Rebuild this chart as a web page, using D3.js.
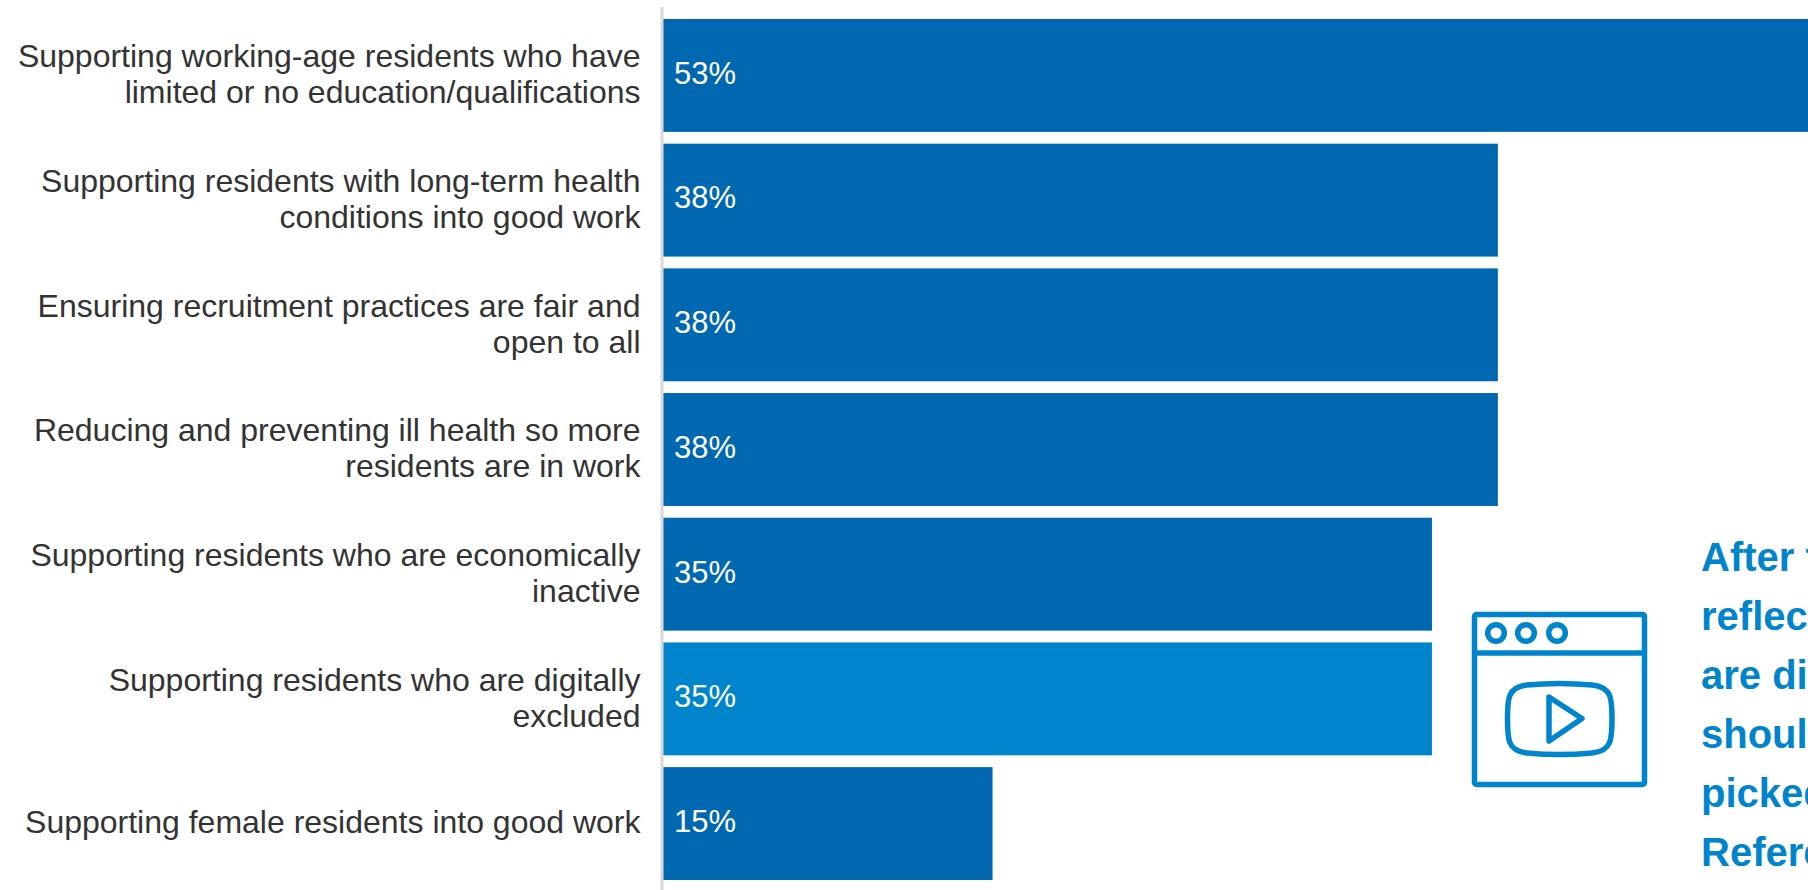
<!DOCTYPE html>
<html>
<head>
<meta charset="utf-8">
<script src="https://cdn.jsdelivr.net/npm/d3@7/dist/d3.min.js"></script>
<style>
html,body{margin:0;padding:0;background:#fff;overflow:hidden}
svg{display:block}
text{font-family:"Liberation Sans",Arial,sans-serif}
</style>
</head>
<body>
<svg id="chart" width="1808" height="890"></svg>
<script>
// Share of respondents choosing each priority
const categories = [
  ["Supporting working-age residents who have", "limited or no education/qualifications"],
  ["Supporting residents with long-term health", "conditions into good work"],
  ["Ensuring recruitment practices are fair and", "open to all"],
  ["Reducing and preventing ill health so more", "residents are in work"],
  ["Supporting residents who are economically", "inactive"],
  ["Supporting residents who are digitally", "excluded"],
  ["Supporting female residents into good work"]
];
const values = [53, 38, 38, 38, 35, 35, 15];
const highlighted = [5];
const noteLines = ["After t", "reflect", "are dig", "should", "picked", "Refere"];

const DARK = "#0067b1", LIGHT = "#0085cc", INK = "#333333";
const svg = d3.select("#chart");

const x = d3.scaleLinear().domain([0, 100]).range([663, 2860]);
const y = d3.scaleBand().domain(d3.range(values.length))
  .range([13, 886]).paddingInner(0.0945).paddingOuter(0.048);

// Bars
svg.append("g").selectAll("rect").data(values).join("rect")
  .attr("x", x(0))
  .attr("y", (d, i) => y(i))
  .attr("width", d => x(d) - x(0))
  .attr("height", y.bandwidth())
  .attr("fill", (d, i) => highlighted.includes(i) ? LIGHT : DARK);

// Vertical baseline
svg.append("line")
  .attr("x1", x(0) - 1).attr("x2", x(0) - 1)
  .attr("y1", 7).attr("y2", 890)
  .attr("stroke", "#d9d9d9").attr("stroke-width", 3);

// Value labels inside the bars
svg.append("g").selectAll("text").data(values).join("text")
  .attr("x", x(0) + 11)
  .attr("y", (d, i) => y(i) + y.bandwidth() / 2 - 2.5)
  .attr("dy", "0.35em")
  .attr("font-size", 31)
  .attr("fill", "#fff")
  .text(d => d + "%");

// Category labels, right aligned against the baseline
const LINE = 36;
const labels = svg.append("g").selectAll("text").data(categories).join("text")
  .attr("text-anchor", "end")
  .attr("font-size", 32)
  .attr("fill", INK);
labels.selectAll("tspan").data((d, i) => d.map((t, j) => ({
    t,
    yy: y(i) + y.bandwidth() / 2 - 1.5 + (j - (d.length - 1) / 2) * LINE
  }))).join("tspan")
  .attr("x", 640.5)
  .attr("y", d => d.yy)
  .attr("dy", "0.35em")
  .text(d => d.t);

// Video player icon
const icon = svg.append("g").attr("fill", "none")
  .attr("stroke", LIGHT).attr("stroke-width", 5.5).attr("stroke-linejoin", "round");
icon.append("rect").attr("x", 1474.5).attr("y", 614.5).attr("width", 170).attr("height", 170).attr("rx", 2);
icon.append("line").attr("x1", 1474.5).attr("x2", 1644.5).attr("y1", 653).attr("y2", 653);
[1496, 1526, 1557].forEach(cx => {
  icon.append("circle").attr("cx", cx).attr("cy", 633).attr("r", 8.3);
});
icon.append("path").attr("d",
  "M1507.5 719 C1507.5 699 1507.5 687 1527 685 C1548 683 1571 683 1592 685 C1612 687 1612 699 1612 719 C1612 739 1612 751 1592 753 C1571 755 1548 755 1527 753 C1507.5 751 1507.5 739 1507.5 719 Z");
icon.append("path").attr("d", "M1549 697 L1582 718.5 L1549 741 Z");

// Callout text, running off the right edge
svg.append("g").selectAll("text").data(noteLines).join("text")
  .attr("x", 1701)
  .attr("y", (d, i) => 571 + i * 59)
  .attr("font-size", 40)
  .attr("font-weight", "bold")
  .attr("fill", LIGHT)
  .text(d => d);
</script>
</body>
</html>
